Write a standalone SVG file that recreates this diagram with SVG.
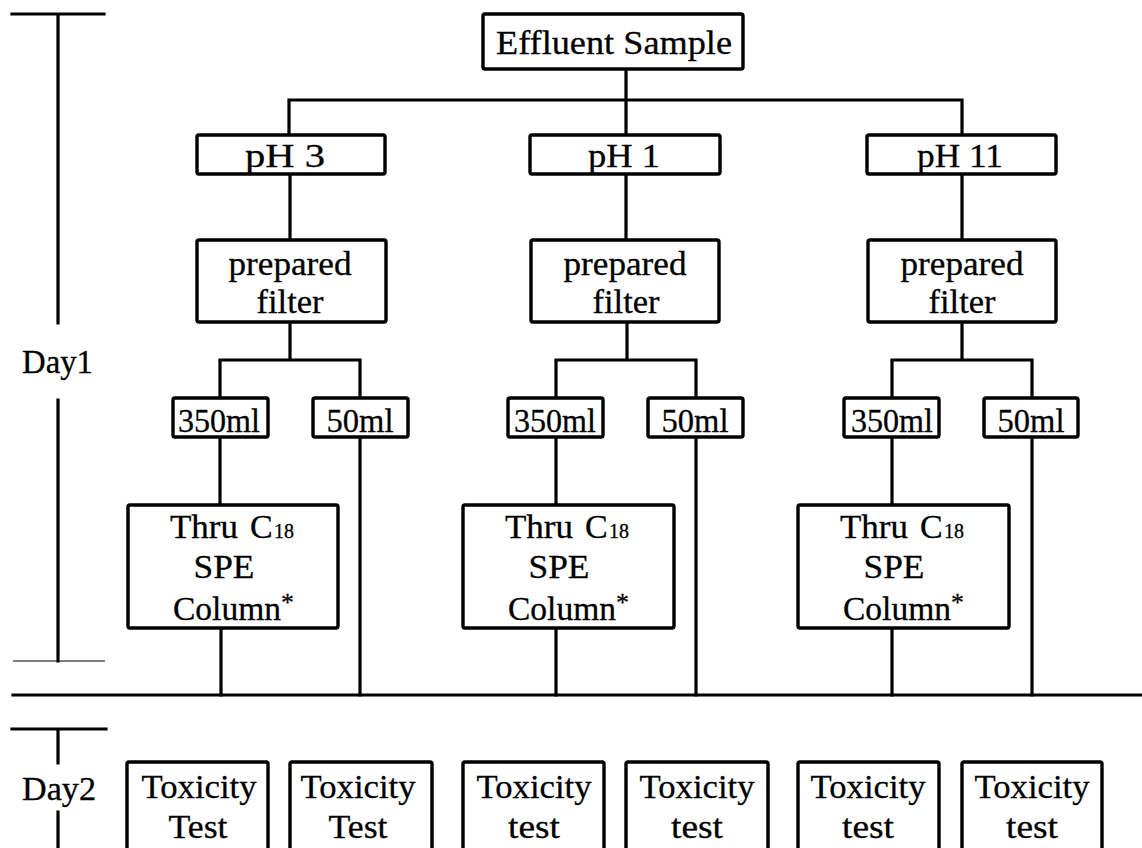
<svg xmlns="http://www.w3.org/2000/svg" width="1142" height="848" viewBox="0 0 1142 848">
<style>
.box{fill:#fff;stroke:#000;stroke-width:3.4;}
.ln{fill:none;stroke:#000;stroke-width:3.2;stroke-linecap:square;}
.thin{fill:none;stroke:#000;stroke-width:1.2;}
text{font-family:"Liberation Serif","Times New Roman",serif;font-size:34px;fill:#000;stroke:#000;stroke-width:0.3;}
.c{text-anchor:middle;}
.sm{font-size:20px;}
.ast{font-size:26px;}
</style>
<rect width="1142" height="848" fill="#fff"/>
<g id="timeline">
<path class="ln" d="M12 14 H104 M58 14 V323 M58 400 V661"/>
<path class="thin" d="M13 661 H105"/>
<text x="22" y="373" textLength="71" lengthAdjust="spacingAndGlyphs">Day1</text>
<path class="ln" d="M12 729 H106 M58 729 V763 M58 812 V850"/>
<text x="22" y="800" textLength="74" lengthAdjust="spacingAndGlyphs">Day2</text>
</g>
<g id="connectors">
<path class="ln" d="M13 695 H1142"/>
<path class="ln" d="M626 69 V135 M289 100 H962 M289 100 V135 M962 100 V135"/>
<path class="ln" d="M290 174 V240 M626 174 V240 M962 174 V240"/>
<path class="ln" d="M290 322 V360 M220 398 V360 H360 V398"/>
<path class="ln" d="M627 322 V360 M556 398 V360 H696 V398"/>
<path class="ln" d="M962 322 V360 M892 398 V360 H1032 V398"/>
<path class="ln" d="M220 437 V505 M221 628 V695 M360 437 V695"/>
<path class="ln" d="M556 437 V505 M556 628 V695 M696 437 V695"/>
<path class="ln" d="M892 437 V505 M892 628 V695 M1032 437 V695"/>
</g>
<g id="effluent">
<rect class="box" x="483" y="14" width="260" height="55" rx="2"/>
<text x="614" y="54" class="c" textLength="236" lengthAdjust="spacingAndGlyphs">Effluent Sample</text>
</g>
<g id="ph3">
<rect class="box" x="197" y="135" width="188" height="39" rx="2"/>
<text x="285" y="167" class="c" textLength="80" lengthAdjust="spacingAndGlyphs">pH 3</text>
</g>
<g id="ph1">
<rect class="box" x="530" y="135" width="190" height="39" rx="2"/>
<text x="624" y="167" class="c" textLength="72" lengthAdjust="spacingAndGlyphs">pH 1</text>
</g>
<g id="ph11">
<rect class="box" x="867" y="135" width="189" height="39" rx="2"/>
<text x="960" y="167" class="c" textLength="86" lengthAdjust="spacingAndGlyphs">pH 11</text>
</g>
<g id="filter1">
<rect class="box" x="197" y="240" width="189" height="82" rx="2"/>
<text x="290" y="275" class="c" textLength="123" lengthAdjust="spacingAndGlyphs">prepared</text>
<text x="290" y="313" class="c" textLength="67" lengthAdjust="spacingAndGlyphs">filter</text>
</g>
<g id="filter2">
<rect class="box" x="531" y="240" width="188" height="82" rx="2"/>
<text x="625" y="275" class="c" textLength="123" lengthAdjust="spacingAndGlyphs">prepared</text>
<text x="626" y="313" class="c" textLength="67" lengthAdjust="spacingAndGlyphs">filter</text>
</g>
<g id="filter3">
<rect class="box" x="868" y="240" width="188" height="82" rx="2"/>
<text x="962" y="275" class="c" textLength="123" lengthAdjust="spacingAndGlyphs">prepared</text>
<text x="962" y="313" class="c" textLength="67" lengthAdjust="spacingAndGlyphs">filter</text>
</g>
<g id="v350a">
<rect class="box" x="173" y="398" width="95" height="39" rx="2"/>
<text x="219" y="432" class="c" textLength="82" lengthAdjust="spacingAndGlyphs">350ml</text>
</g>
<g id="v50a">
<rect class="box" x="313" y="398" width="95" height="39" rx="2"/>
<text x="360" y="432" class="c" textLength="67" lengthAdjust="spacingAndGlyphs">50ml</text>
</g>
<g id="v350b">
<rect class="box" x="508" y="398" width="95" height="39" rx="2"/>
<text x="555" y="432" class="c" textLength="82" lengthAdjust="spacingAndGlyphs">350ml</text>
</g>
<g id="v50b">
<rect class="box" x="648" y="398" width="95" height="39" rx="2"/>
<text x="695" y="432" class="c" textLength="67" lengthAdjust="spacingAndGlyphs">50ml</text>
</g>
<g id="v350c">
<rect class="box" x="844" y="398" width="95" height="39" rx="2"/>
<text x="892" y="432" class="c" textLength="82" lengthAdjust="spacingAndGlyphs">350ml</text>
</g>
<g id="v50c">
<rect class="box" x="984" y="398" width="94" height="39" rx="2"/>
<text x="1031" y="432" class="c" textLength="67" lengthAdjust="spacingAndGlyphs">50ml</text>
</g>
<g id="spe1">
<rect class="box" x="128" y="505" width="210" height="123" rx="2"/>
<text x="170" y="538"><tspan textLength="68" lengthAdjust="spacingAndGlyphs">Thru</tspan><tspan x="250">C</tspan><tspan x="274" class="sm">18</tspan></text>
<text x="224" y="578" class="c" textLength="61" lengthAdjust="spacingAndGlyphs">SPE</text>
<text x="173" y="620" textLength="108" lengthAdjust="spacingAndGlyphs">Column</text>
<text x="281" y="611" class="ast">*</text>
</g>
<g id="spe2">
<rect class="box" x="463" y="505" width="211" height="123" rx="2"/>
<text x="505" y="538"><tspan textLength="68" lengthAdjust="spacingAndGlyphs">Thru</tspan><tspan x="585">C</tspan><tspan x="609" class="sm">18</tspan></text>
<text x="559" y="578" class="c" textLength="61" lengthAdjust="spacingAndGlyphs">SPE</text>
<text x="508" y="620" textLength="108" lengthAdjust="spacingAndGlyphs">Column</text>
<text x="616" y="611" class="ast">*</text>
</g>
<g id="spe3">
<rect class="box" x="798" y="505" width="211" height="123" rx="2"/>
<text x="840" y="538"><tspan textLength="68" lengthAdjust="spacingAndGlyphs">Thru</tspan><tspan x="920">C</tspan><tspan x="944" class="sm">18</tspan></text>
<text x="894" y="578" class="c" textLength="61" lengthAdjust="spacingAndGlyphs">SPE</text>
<text x="843" y="620" textLength="108" lengthAdjust="spacingAndGlyphs">Column</text>
<text x="951" y="611" class="ast">*</text>
</g>
<g id="tox1">
<rect class="box" x="127" y="762" width="141" height="90" rx="2"/>
<text x="199" y="798" class="c" textLength="115" lengthAdjust="spacingAndGlyphs">Toxicity</text>
<text x="198" y="838" class="c" textLength="59" lengthAdjust="spacingAndGlyphs">Test</text>
</g>
<g id="tox2">
<rect class="box" x="290" y="762" width="142" height="90" rx="2"/>
<text x="358" y="798" class="c" textLength="115" lengthAdjust="spacingAndGlyphs">Toxicity</text>
<text x="358" y="838" class="c" textLength="59" lengthAdjust="spacingAndGlyphs">Test</text>
</g>
<g id="tox3">
<rect class="box" x="463" y="762" width="141" height="90" rx="2"/>
<text x="534" y="798" class="c" textLength="115" lengthAdjust="spacingAndGlyphs">Toxicity</text>
<text x="534" y="838" class="c" textLength="52" lengthAdjust="spacingAndGlyphs">test</text>
</g>
<g id="tox4">
<rect class="box" x="626" y="762" width="142" height="90" rx="2"/>
<text x="697" y="798" class="c" textLength="115" lengthAdjust="spacingAndGlyphs">Toxicity</text>
<text x="697" y="838" class="c" textLength="52" lengthAdjust="spacingAndGlyphs">test</text>
</g>
<g id="tox5">
<rect class="box" x="798" y="762" width="141" height="90" rx="2"/>
<text x="868" y="798" class="c" textLength="115" lengthAdjust="spacingAndGlyphs">Toxicity</text>
<text x="868" y="838" class="c" textLength="52" lengthAdjust="spacingAndGlyphs">test</text>
</g>
<g id="tox6">
<rect class="box" x="962" y="762" width="140" height="90" rx="2"/>
<text x="1032" y="798" class="c" textLength="115" lengthAdjust="spacingAndGlyphs">Toxicity</text>
<text x="1032" y="838" class="c" textLength="52" lengthAdjust="spacingAndGlyphs">test</text>
</g>
</svg>
